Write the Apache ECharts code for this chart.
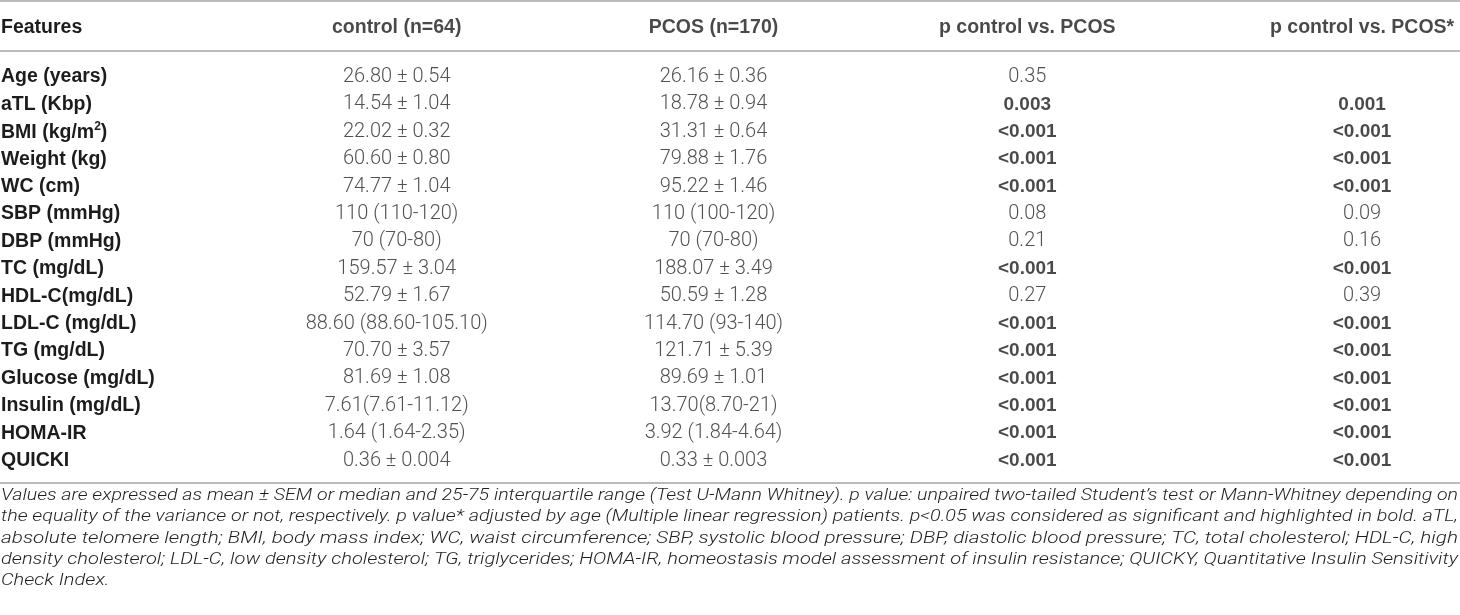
<!DOCTYPE html>
<html>
<head>
<meta charset="utf-8">
<style>
  html, body { margin: 0; padding: 0; background: #fff; }
  #chart { width: 1460px; height: 615px; }
</style>
<script src="https://cdn.jsdelivr.net/npm/echarts@6/dist/echarts.min.js"></script>
</head>
<body>
<div id="chart"></div>
<script>
/* ---------------------------------- data ---------------------------------- */
const headers = [
  'Features', 'control (n=64)', 'PCOS (n=170)',
  'p control vs. PCOS', 'p control vs. PCOS*'
];
const features = [
  'Age (years)', 'aTL (Kbp)', 'BMI (kg/m^2)', 'Weight (kg)', 'WC (cm)',
  'SBP (mmHg)', 'DBP (mmHg)', 'TC (mg/dL)', 'HDL-C(mg/dL)', 'LDL-C (mg/dL)',
  'TG (mg/dL)', 'Glucose (mg/dL)', 'Insulin (mg/dL)', 'HOMA-IR', 'QUICKI'
];
const controlValues = [
  '26.80 ± 0.54', '14.54 ± 1.04', '22.02 ± 0.32', '60.60 ± 0.80',
  '74.77 ± 1.04', '110 (110-120)', '70 (70-80)', '159.57 ± 3.04',
  '52.79 ± 1.67', '88.60 (88.60-105.10)', '70.70 ± 3.57', '81.69 ± 1.08',
  '7.61(7.61-11.12)', '1.64 (1.64-2.35)', '0.36 ± 0.004'
];
const pcosValues = [
  '26.16 ± 0.36', '18.78 ± 0.94', '31.31 ± 0.64', '79.88 ± 1.76',
  '95.22 ± 1.46', '110 (100-120)', '70 (70-80)', '188.07 ± 3.49',
  '50.59 ± 1.28', '114.70 (93-140)', '121.71 ± 5.39', '89.69 ± 1.01',
  '13.70(8.70-21)', '3.92 (1.84-4.64)', '0.33 ± 0.003'
];
const pValues = [
  '0.35', '0.003', '<0.001', '<0.001', '<0.001', '0.08', '0.21', '<0.001',
  '0.27', '<0.001', '<0.001', '<0.001', '<0.001', '<0.001', '<0.001'
];
const pAdjValues = [
  '', '0.001', '<0.001', '<0.001', '<0.001', '0.09', '0.16', '<0.001',
  '0.39', '<0.001', '<0.001', '<0.001', '<0.001', '<0.001', '<0.001'
];
const footnoteLines = [
  'Values are expressed as mean ± SEM or median and 25-75 interquartile range (Test U-Mann Whitney). p value: unpaired two-tailed Student\u2019s test or Mann-Whitney depending on',
  'the equality of the variance or not, respectively. p value* adjusted by age (Multiple linear regression) patients. p<0.05 was considered as significant and highlighted in bold. aTL,',
  'absolute telomere length; BMI, body mass index; WC, waist circumference; SBP, systolic blood pressure; DBP, diastolic blood pressure; TC, total cholesterol; HDL-C, high',
  'density cholesterol; LDL-C, low density cholesterol; TG, triglycerides; HOMA-IR, homeostasis model assessment of insulin resistance; QUICKY, Quantitative Insulin Sensitivity',
  'Check Index.'
];

/* --------------------------------- styles --------------------------------- */
const BOLD_FONT = 'Liberation Sans';
const LIGHT_FONT = 'Roboto';
const BOLD_COLOR = '#1c1c1c';
const LIGHT_COLOR = '#262626';
const RULE = { color: '#a3a3a3', width: 1.6 };
// small horizontal label nudges per column (the reference columns are not evenly spaced)
const columnNudge = [0, 0, -3, -9, 6];

const isSignificant = s => s.startsWith('<') || (s !== '' && parseFloat(s) < 0.05);

const hiddenDot = {
  type: 'scatter',
  symbolSize: 1,
  silent: true,
  itemStyle: { color: 'rgba(0,0,0,0)' },
  emphasis: { disabled: true }
};

const columnSeries = (colIndex, values, boldRule) => ({
  ...hiddenDot,
  xAxisIndex: 1,
  yAxisIndex: 1,
  label: {
    show: true,
    position: 'inside',
    offset: [columnNudge[colIndex], 0],
    formatter: '{b}',
    fontFamily: LIGHT_FONT,
    fontWeight: 300,
    fontSize: 20,
    color: LIGHT_COLOR
  },
  data: values.map((v, i) => {
    const item = { name: v, value: [headers[colIndex], features[i]] };
    if (boldRule && isSignificant(v)) {
      item.label = { fontFamily: BOLD_FONT, fontWeight: 'bold', fontSize: 19, color: BOLD_COLOR };
    }
    return item;
  })
});

const chart = echarts.init(document.getElementById('chart'));

// footnote lines are stretched to the justified width of the reference
const measure = document.createElement('canvas').getContext('2d');
const FOOT_FONT = 'italic 300 17px ' + LIGHT_FONT;
measure.font = FOOT_FONT;
const fullWidth = 1457;
const scales = footnoteLines.map(t => fullWidth / measure.measureText(t).width);
const avgScale = scales.slice(0, -1).reduce((a, b) => a + b, 0) / (scales.length - 1);

const footnote = footnoteLines.map((t, i) => ({
  type: 'text',
  x: 1,
  y: 496 + i * 21.2,
  scaleX: i < footnoteLines.length - 1 ? scales[i] : avgScale,
  silent: true,
  style: {
    text: t,
    font: FOOT_FONT,
    fill: '#1e1e1e',
    verticalAlign: 'middle',
    align: 'left'
  }
}));

const gridBase = { left: -83, width: 1599, outerBoundsMode: 'none', containLabel: false };

chart.setOption({
  animation: false,
  grid: [
    { ...gridBase, top: 1, height: 53 },
    { ...gridBase, top: 63.3, height: 411 }
  ],
  xAxis: [
    {
      gridIndex: 0, type: 'category', data: headers, position: 'top',
      axisLine: { show: true, lineStyle: RULE },
      axisTick: { show: false }, axisLabel: { show: false }, splitLine: { show: false }
    },
    {
      gridIndex: 1, type: 'category', data: headers, position: 'top', offset: 12.3,
      axisLine: { show: true, lineStyle: RULE },
      axisTick: { show: false }, axisLabel: { show: false }, splitLine: { show: false }
    },
    {
      gridIndex: 1, type: 'category', data: headers, position: 'bottom', offset: 8.7,
      axisLine: { show: true, lineStyle: RULE },
      axisTick: { show: false }, axisLabel: { show: false }, splitLine: { show: false }
    }
  ],
  yAxis: [
    {
      gridIndex: 0, type: 'category', data: [headers[0]], inverse: true,
      axisLine: { show: false }, axisTick: { show: false }, splitLine: { show: false },
      axisLabel: {
        inside: true, margin: 84,
        fontFamily: BOLD_FONT, fontWeight: 'bold', fontSize: 19.5, color: BOLD_COLOR
      }
    },
    {
      gridIndex: 1, type: 'category', data: features, inverse: true,
      axisLine: { show: false }, axisTick: { show: false }, splitLine: { show: false },
      axisLabel: {
        inside: true, margin: 84, interval: 0,
        fontFamily: BOLD_FONT, fontWeight: 'bold', fontSize: 19.5, color: BOLD_COLOR,
        formatter: v => {
          const m = v.match(/^(.*)\^(\w)(.*)$/);
          return m ? `{b|${m[1]}}{sup|${m[2]}}{b|${m[3]}}` : v;
        },
        rich: {
          b: {
            fontFamily: BOLD_FONT, fontWeight: 'bold', fontSize: 19.5,
            color: BOLD_COLOR, lineHeight: 22, verticalAlign: 'bottom'
          },
          sup: {
            fontFamily: BOLD_FONT, fontWeight: 'bold', fontSize: 12,
            color: BOLD_COLOR, lineHeight: 22, verticalAlign: 'top', padding: [0, 0, 6, 0]
          }
        }
      }
    }
  ],
  series: [
    {
      ...hiddenDot,
      xAxisIndex: 0,
      yAxisIndex: 0,
      label: {
        show: true, position: 'inside', formatter: '{b}',
        fontFamily: BOLD_FONT, fontWeight: 'bold', fontSize: 19.5, color: BOLD_COLOR
      },
      data: headers.slice(1).map((h, k) => ({
        name: h,
        value: [h, headers[0]],
        label: { offset: [columnNudge[k + 1], 0] }
      }))
    },
    columnSeries(1, controlValues, false),
    columnSeries(2, pcosValues, false),
    columnSeries(3, pValues, true),
    columnSeries(4, pAdjValues, true)
  ],
  graphic: footnote
});
</script>
</body>
</html>
